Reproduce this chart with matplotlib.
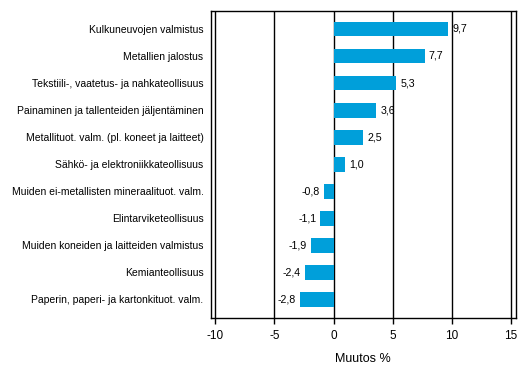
import matplotlib.pyplot as plt

# --- Data ---
categories = [
    "Kulkuneuvojen valmistus",
    "Metallien jalostus",
    "Tekstiili-, vaatetus- ja nahkateollisuus",
    "Painaminen ja tallenteiden jäljentäminen",
    "Metallituot. valm. (pl. koneet ja laitteet)",
    "Sähkö- ja elektroniikkateollisuus",
    "Muiden ei-metallisten mineraalituot. valm.",
    "Elintarviketeollisuus",
    "Muiden koneiden ja laitteiden valmistus",
    "Kemianteollisuus",
    "Paperin, paperi- ja kartonkituot. valm.",
]
values = [9.7, 7.7, 5.3, 3.6, 2.5, 1.0, -0.8, -1.1, -1.9, -2.4, -2.8]
x_ticks = [-10, -5, 0, 5, 10, 15]

plt.rcParams['font.family'] = ['Liberation Sans', 'DejaVu Sans']

fig = plt.figure(figsize=(5.29, 3.77), dpi=100)
ax = fig.add_axes([0.398, 0.157, 0.577, 0.815])

pos = list(range(len(categories)))
ax.barh(pos, values, height=0.55, color='#009FDA', zorder=3)

# vertical grid lines
for t in x_ticks:
    ax.axvline(t, color='black', lw=1.0, zorder=2)

# value labels
for y, v in zip(pos, values):
    txt = f"{v:.1f}".replace('.', ',')
    if v >= 0:
        ax.annotate(txt, (v, y), xytext=(3, 0), textcoords='offset points',
                    ha='left', va='center', fontsize=7.7, zorder=4)
    else:
        ax.annotate(txt, (v, y), xytext=(-3, 0), textcoords='offset points',
                    ha='right', va='center', fontsize=7.7, zorder=4)

ax.set_xlim(-10.39, 15.4)
ax.set_ylim(len(categories) - 0.32, -0.68)
ax.set_yticks(pos)
ax.set_yticklabels(categories, fontsize=7.5)
ax.tick_params(axis='y', length=0, pad=5)
ax.set_xticks(x_ticks)
ax.set_xticklabels([str(t) for t in x_ticks], fontsize=8.5)
ax.tick_params(axis='x', length=4, width=1, direction='out', pad=5)
ax.set_xlabel("Muutos %", fontsize=9, labelpad=8)

for s in ax.spines.values():
    s.set_linewidth(1.0)
    s.set_color('black')

fig.savefig('out.png', dpi=100)
